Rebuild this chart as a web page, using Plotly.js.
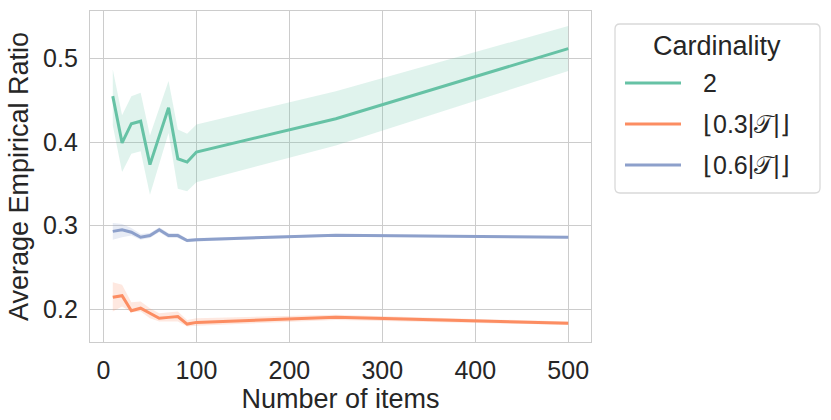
<!DOCTYPE html>
<html>
<head>
<meta charset="utf-8">
<script src="https://cdn.plot.ly/plotly-3.0.1.min.js"></script>
<style>
  html, body { margin: 0; padding: 0; background: #fff; }
  #chart { width: 831px; height: 420px; }
</style>
</head>
<body>
<div id="chart"></div>
<script>
// number of items
var items = [10, 20, 30, 40, 50, 60, 70, 80, 90, 100, 250, 500];

// series "2"
var card2 = [0.455, 0.399, 0.422, 0.425, 0.373, 0.407, 0.441, 0.380, 0.376, 0.388, 0.428, 0.512];
var card2Lo = [0.420, 0.364, 0.386, 0.389, 0.337, 0.374, 0.411, 0.344, 0.341, 0.352, 0.396, 0.485];
var card2Hi = [0.487, 0.432, 0.455, 0.459, 0.408, 0.440, 0.473, 0.415, 0.410, 0.421, 0.461, 0.539];

// series floor(0.3|T|)
var card03 = [0.214, 0.216, 0.198, 0.201, 0.195, 0.189, 0.190, 0.191, 0.182, 0.184, 0.190, 0.183];
var card03Lo = [0.197, 0.203, 0.196, 0.197, 0.189, 0.185, 0.185, 0.185, 0.179, 0.180, 0.187, 0.181];
var card03Hi = [0.232, 0.229, 0.208, 0.209, 0.201, 0.195, 0.196, 0.197, 0.187, 0.189, 0.193, 0.185];

// series floor(0.6|T|)
var card06 = [0.293, 0.295, 0.292, 0.286, 0.288, 0.295, 0.288, 0.288, 0.282, 0.283, 0.2885, 0.286];
var card06Lo = [0.283, 0.286, 0.288, 0.283, 0.285, 0.292, 0.285, 0.285, 0.280, 0.281, 0.287, 0.2848];
var card06Hi = [0.303, 0.302, 0.297, 0.290, 0.291, 0.298, 0.291, 0.291, 0.284, 0.285, 0.290, 0.2872];

var names = ['2', '\u230A0.3|\uD835\uDCAF|\u230B', '\u230A0.6|\uD835\uDCAF|\u230B'];
var colors = ['#66c2a5', '#fc8d62', '#8da0cb'];
var bands = ['rgba(102,194,165,0.2)', 'rgba(252,141,98,0.2)', 'rgba(141,160,203,0.2)'];

function band(lo, hi, fillcolor) {
  return {
    x: items.concat(items.slice().reverse()),
    y: lo.concat(hi.slice().reverse()),
    type: 'scatter',
    mode: 'lines',
    fill: 'toself',
    fillcolor: fillcolor,
    line: {width: 0},
    hoverinfo: 'skip',
    showlegend: false
  };
}

function line(y, name, color) {
  return {
    x: items,
    y: y,
    name: name,
    type: 'scatter',
    mode: 'lines',
    line: {color: color, width: 3},
    showlegend: false
  };
}

var data = [
  band(card2Lo, card2Hi, bands[0]),
  band(card03Lo, card03Hi, bands[1]),
  band(card06Lo, card06Hi, bands[2]),
  line(card2, names[0], colors[0]),
  line(card03, names[1], colors[1]),
  line(card06, names[2], colors[2])
];

// plot box in pixels: left 90, right 591, top 11, bottom 342
function px(p) { return (p - 90) / 501; }
function py(p) { return (342 - p) / 331; }

// hand-made legend (matplotlib style: long line handles, rounded frame)
var shapes = [];
var annotations = [];
var r = 5;
var L = 615, R = 820, T = 24, B = 193;
shapes.push({
  type: 'path', xref: 'paper', yref: 'paper',
  path: 'M ' + px(L + r) + ',' + py(T) + ' L ' + px(R - r) + ',' + py(T) +
        ' Q ' + px(R) + ',' + py(T) + ' ' + px(R) + ',' + py(T + r) +
        ' L ' + px(R) + ',' + py(B - r) +
        ' Q ' + px(R) + ',' + py(B) + ' ' + px(R - r) + ',' + py(B) +
        ' L ' + px(L + r) + ',' + py(B) +
        ' Q ' + px(L) + ',' + py(B) + ' ' + px(L) + ',' + py(B - r) +
        ' L ' + px(L) + ',' + py(T + r) +
        ' Q ' + px(L) + ',' + py(T) + ' ' + px(L + r) + ',' + py(T) + ' Z',
  line: {color: '#d9d9d9', width: 1.3},
  fillcolor: '#fff'
});
annotations.push({
  xref: 'paper', yref: 'paper', x: px(717), y: py(46),
  text: 'Cardinality', showarrow: false, xanchor: 'center', yanchor: 'middle',
  font: {size: 27, color: '#262626'}
});
var rowY = [83, 124, 165];
names.forEach(function (n, i) {
  shapes.push({
    type: 'line', xref: 'paper', yref: 'paper',
    x0: px(625), x1: px(681), y0: py(rowY[i]), y1: py(rowY[i]),
    line: {color: colors[i], width: 3}
  });
  annotations.push({
    xref: 'paper', yref: 'paper', x: px(701), y: py(rowY[i]),
    text: n, showarrow: false, xanchor: 'left', yanchor: 'middle',
    font: {size: 25, color: '#262626'}
  });
});

var tickfont = {size: 25, color: '#262626'};

var layout = {
  width: 831,
  height: 420,
  margin: {l: 90, r: 240, t: 11, b: 78},
  font: {family: 'Liberation Sans, Arial, sans-serif', color: '#262626'},
  paper_bgcolor: '#fff',
  plot_bgcolor: '#fff',
  showlegend: false,
  xaxis: {
    range: [-14.5, 524.5],
    tickvals: [0, 100, 200, 300, 400, 500],
    tickfont: tickfont,
    ticklabelstandoff: 6,
    gridcolor: '#cccccc',
    gridwidth: 1.3,
    zeroline: false,
    showline: true,
    mirror: true,
    linecolor: '#cccccc',
    linewidth: 1.3,
    ticks: '',
    title: {text: 'Number of items', font: {size: 27, color: '#262626'}, standoff: 4}
  },
  yaxis: {
    range: [0.1605, 0.557],
    tickvals: [0.2, 0.3, 0.4, 0.5],
    ticktext: ['0.2', '0.3', '0.4', '0.5'],
    tickfont: tickfont,
    ticklabelstandoff: 6,
    gridcolor: '#cccccc',
    gridwidth: 1.3,
    zeroline: false,
    showline: true,
    mirror: true,
    linecolor: '#cccccc',
    linewidth: 1.3,
    ticks: '',
    title: {text: 'Average Empirical Ratio', font: {size: 27, color: '#262626'}, standoff: 6}
  },
  shapes: shapes,
  annotations: annotations
};

Plotly.newPlot('chart', data, layout, {displayModeBar: false});
</script>
</body>
</html>
